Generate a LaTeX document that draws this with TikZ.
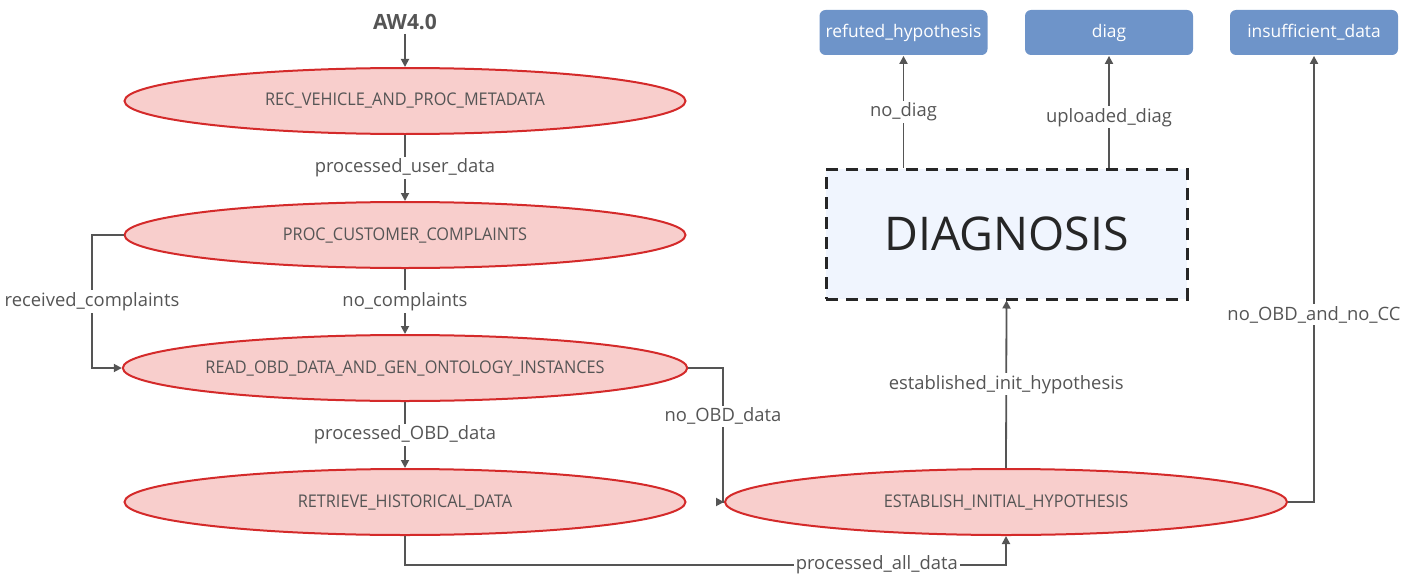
\documentclass[tikz,border=0pt]{standalone}
\usepackage{fontspec}
\setmainfont{Open Sans}
\newfontfamily\condfont[FakeStretch=0.93]{Open Sans}
\usetikzlibrary{shapes.geometric,arrows.meta}
\definecolor{stategray}{HTML}{555555}
\definecolor{statefill}{HTML}{F8CECC}
\definecolor{stateline}{HTML}{D42A2A}
\definecolor{endfill}{HTML}{6E94C9}
\definecolor{diagfill}{HTML}{F0F5FE}
\begin{document}
\begin{tikzpicture}[x=1pt,y=-1pt,
  every path/.style={line width=1.8pt},
  state/.style={ellipse,draw=stateline,fill=statefill,line width=2pt,minimum width=561pt,minimum height=66pt,inner sep=0pt,text=stategray,font=\condfont\fontsize{17.5}{20}\selectfont},
  final/.style={rectangle,rounded corners=6pt,fill=endfill,text=white,minimum width=168pt,minimum height=45pt,inner sep=0pt,font=\fontsize{17.4}{20}\selectfont},
  trans/.style={draw=stategray,-{Triangle[length=8pt,width=8pt]}},
  lbl/.style={fill=white,text=stategray,inner sep=2pt,font=\fontsize{18.4}{21}\selectfont}]
\useasboundingbox (0,0) rectangle (1413,586);
\node[text=stategray,font=\bfseries\fontsize{21}{24}\selectfont] (start) at (405,22) {AW4.0};
\node[state] (rec) at (405,101) {REC\_VEHICLE\_AND\_PROC\_METADATA};
\node[state] (proc) at (405,235) {PROC\_CUSTOMER\_COMPLAINTS};
\node[state] (read) at (405,368) {READ\_OBD\_DATA\_AND\_GEN\_ONTOLOGY\_INSTANCES};
\node[state] (retr) at (405,502) {RETRIEVE\_HISTORICAL\_DATA};
\node[state,minimum width=562pt] (estab) at (1006,502) {ESTABLISH\_INITIAL\_HYPOTHESIS};
\node[draw=black!85,dashed,dash pattern=on 12pt off 8pt,line width=3pt,fill=diagfill,minimum width=361pt,minimum height=130pt,font=\fontsize{46.5}{50}\selectfont,text=black!85] (diagnosis) at (1006.5,234) {DIAGNOSIS};
\node[final] (refuted) at (903.5,32.5) {refuted\_hypothesis};
\node[final] (diag) at (1109,32.5) {diag};
\node[final] (insuff) at (1314,32.5) {insufficient\_data};
\coordinate (c1) at (92,235);
\coordinate (c2) at (92,368);
\coordinate (c3) at (723,368);
\coordinate (c4) at (723,502);
\coordinate (c5) at (405,565);
\coordinate (c6) at (1006,565);
\coordinate (c7) at (1314,502);
\draw[trans] (start) -- (rec);
\draw[trans] (rec) -- node[lbl] {processed\_user\_data} (proc);
\draw[trans] (proc) -- node[lbl] {no\_complaints} (read);
\draw[trans] (proc.west) -- (c1) -- node[lbl] {received\_complaints} (c2) -- (read.west);
\draw[trans] (read) -- node[lbl] {processed\_OBD\_data} (retr);
\draw[trans] (read.east) -- (c3) -- node[lbl,pos=0.36] {no\_OBD\_data} (c4) -- (estab.west);
\draw[trans] (retr.south) -- (c5) -- node[lbl,pos=0.785] {processed\_all\_data} (c6) -- (estab.south);
\draw[trans] (estab.north) -- node[lbl,pos=0.5] {established\_init\_hypothesis} (diagnosis.south);
\draw[trans] (diagnosis.north -| refuted.south) -- node[lbl] {no\_diag} (refuted.south);
\draw[trans] (diagnosis.north -| diag.south) -- node[lbl,pos=0.45] {uploaded\_diag} (diag.south);
\draw[trans] (estab.east) -- (c7) -- node[lbl,pos=0.42] {no\_OBD\_and\_no\_CC} (insuff.south);
\end{tikzpicture}
\end{document}
